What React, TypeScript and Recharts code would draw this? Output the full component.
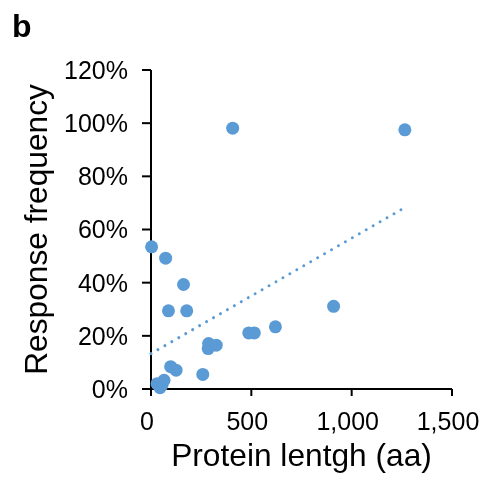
import { ScatterChart, Scatter, XAxis, YAxis, Label } from 'recharts';

// Protein length (aa) vs response frequency (%)
const proteinLength = [3, 73, 162, 87, 178, 407, 1265, 910, 620, 487, 515, 287, 325, 285, 258, 98, 125, 30, 45, 55, 65];
const responseFreq = [53.5, 49.2, 39.3, 29.4, 29.4, 98.1, 97.5, 31.1, 23.4, 21.1, 21.1, 17.1, 16.5, 15.2, 5.5, 8.4, 7.1, 2.0, 0.5, 1.5, 3.3];

// linear trendline end points
const trendX = [0, 1275];
const trendY = [13.3, 68.7];

const xTicks = [0, 500, 1000, 1500];
const yTicks = [0, 20, 40, 60, 80, 100, 120];

const points = proteinLength.map((x, i) => ({ x, y: responseFreq[i] }));
const trend = trendX.map((x, i) => ({ x, y: trendY[i] }));

const BLUE = '#5B9BD5';
const FONT = '"Liberation Sans", Arial, sans-serif';

const Dot = (props: any) => <circle cx={props.cx} cy={props.cy} r={6.5} fill={BLUE} />;
const NoDot = () => <g />;

// x tick labels sit a few px left of their tick, like the Excel original
const XTick = ({ x, y, payload }: any) => (
  <text x={x - 4} y={y} dy="0.71em" textAnchor="middle" fill="#000" fontSize={25} fontFamily={FONT}>
    {Number(payload.value).toLocaleString('en-US')}
  </text>
);

export default function App() {
  // pinned to the viewport corner so the body margin / scrollbars don't matter
  return (
    <div style={{ position: 'fixed', left: 0, top: 0, width: 481, height: 480, overflow: 'hidden' }}>
      <ScatterChart
        width={481}
        height={480}
        margin={{ top: 70, right: 29, left: 0, bottom: 0 }}
        style={{ display: 'block' }}
      >
        <XAxis
          type="number"
          dataKey="x"
          domain={[0, 1500]}
          ticks={xTicks}
          height={91}
          tickSize={7}
          tickMargin={16}
          stroke="#000"
          strokeWidth={2}
          tick={<XTick />}
        >
          <Label
            value="Protein lentgh (aa)"
            position="insideBottom"
            offset={14}
            fill="#000"
            fontSize={31.7}
            fontFamily={FONT}
          />
        </XAxis>
        <YAxis
          type="number"
          dataKey="y"
          domain={[0, 120]}
          ticks={yTicks}
          width={151}
          tickSize={9}
          tickMargin={14}
          stroke="#000"
          strokeWidth={2}
          tick={{ fill: '#000', fontSize: 25, fontFamily: FONT }}
          tickFormatter={(v: number) => `${v}%`}
        >
          <Label
            value="Response frequency"
            position="insideLeft"
            angle={-90}
            offset={36}
            textAnchor="middle"
            fill="#000"
            fontSize={31.7}
            fontFamily={FONT}
          />
        </YAxis>
        <Scatter data={points} shape={Dot} isAnimationActive={false} />
        <Scatter
          data={trend}
          shape={NoDot}
          line={{ stroke: BLUE, strokeWidth: 3, strokeDasharray: '0.01 8', strokeLinecap: 'round' }}
          isAnimationActive={false}
        />
      </ScatterChart>
      <svg width={60} height={50} style={{ position: 'absolute', left: 0, top: 0 }}>
        <text x={12} y={37} fontSize={32} fontWeight="bold" fontFamily={FONT} fill="#000">
          b
        </text>
      </svg>
    </div>
  );
}
